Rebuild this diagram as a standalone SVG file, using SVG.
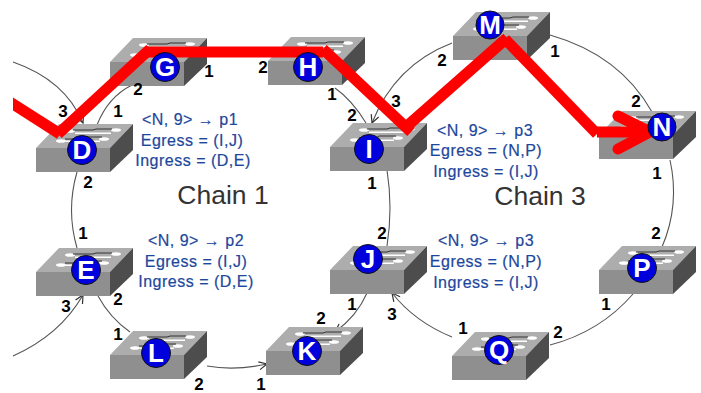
<svg xmlns="http://www.w3.org/2000/svg" xmlns:xlink="http://www.w3.org/1999/xlink" width="701" height="393" viewBox="0 0 701 393">
<style>
text{font-family:"Liberation Sans",Arial,sans-serif}
.c{fill:none;stroke:#555;stroke-width:1.1}
.a{marker-end:url(#ah)}
.r{stroke:#f00;stroke-width:11;fill:none}
.n{fill:#00d;stroke:#111;stroke-width:1}
.l{fill:#fff;font-weight:bold;font-size:26px;text-anchor:middle}
.p{fill:#000;font-size:17px;font-weight:bold;text-anchor:middle}
.t{fill:#1c479c;font-size:16px;text-anchor:middle;letter-spacing:.5px;stroke:#1c479c;stroke-width:.2}
.h{fill:#333;font-size:26.5px;text-anchor:middle}
</style>
<defs>
<clipPath id="cl"><rect x="13" y="0" width="688" height="393"/></clipPath>
<marker id="ah" viewBox="0 0 10 10" refX="9" refY="5" markerWidth="10" markerHeight="10" orient="auto" markerUnits="userSpaceOnUse"><path d="M1 1L9 5L1 9" fill="none" stroke="#333" stroke-width="1.2"/></marker>
<g id="sw">
<polygon points="0,0 23,-24 97,-24 74,0" fill="#adadad"/>
<rect x="0" y="0" width="74" height="24" fill="#8f8f8f"/>
<polygon points="74,0 97,-24 97,2 74,24" fill="#4d4d4d"/>
<g fill="#fff"><ellipse cx="34" cy="-17" rx="5" ry="1.8"/><ellipse cx="80" cy="-18" rx="5" ry="1.8"/><ellipse cx="25" cy="-7" rx="5" ry="1.8"/><ellipse cx="68" cy="-9" rx="5" ry="1.8"/><rect x="39" y="-15.5" width="36" height="1.5"/><rect x="30" y="-7.5" width="34" height="1.5"/></g>
<path d="M37 -18H57L60 -19H76M29 -9H46L49 -11H66" fill="none" stroke="#333" stroke-width="1"/>
</g>
</defs>
<rect width="701" height="393" fill="#fff"/>
<g id="connectors">
<path class="c a" d="M13 62Q65 80 83 123"/>
<path class="c" d="M132 85Q108 97 97 125"/>
<path class="c" d="M77 172Q66 210 77 248"/>
<path class="c a" d="M13 356Q60 335 83 295"/>
<path class="c" d="M98 296Q110 318 130 332"/>
<path class="c a" d="M207 366Q235 371 267 364"/>
<path class="c a" d="M367 293Q357 316 335 332"/>
<path class="c a" d="M452 337Q415 322 392 293"/>
<path class="c" d="M550 345Q600 332 633 294"/>
<path class="c" d="M662 247Q680 205 670 160"/>
<path class="c" d="M550 35Q620 55 652 112"/>
<path class="c a" d="M452 43Q395 65 372 123"/>
<path class="c" d="M335 88Q352 100 366 123"/>
<path class="c" d="M387 170Q393 208 387 246"/>
</g>
<g id="sw-M"><use xlink:href="#sw" href="#sw" x="453" y="36"/></g>
<g id="sw-N"><use xlink:href="#sw" href="#sw" x="599" y="135"/></g>
<g id="sw-D"><use xlink:href="#sw" href="#sw" x="36" y="148"/></g>
<g id="sw-G"><use xlink:href="#sw" href="#sw" x="110" y="62"/></g>
<g id="sw-H"><use xlink:href="#sw" href="#sw" x="268" y="61"/></g>
<g id="sw-I"><use xlink:href="#sw" href="#sw" x="330" y="147"/></g>
<g id="node-E"><use xlink:href="#sw" href="#sw" x="36" y="272"/><circle class="n" cx="86" cy="270" r="14.5"/><text class="l" x="86" y="279">E</text></g>
<g id="node-L"><use xlink:href="#sw" href="#sw" x="110" y="355"/><circle class="n" cx="156" cy="353" r="14.5"/><text class="l" x="156" y="362">L</text></g>
<g id="node-K"><use xlink:href="#sw" href="#sw" x="266" y="351"/><circle class="n" cx="307" cy="351" r="14.5"/><text class="l" x="307" y="360">K</text></g>
<g id="node-J"><use xlink:href="#sw" href="#sw" x="330" y="270"/><circle class="n" cx="368" cy="259" r="14.5"/><text class="l" x="368" y="268">J</text></g>
<g id="node-P"><use xlink:href="#sw" href="#sw" x="599" y="270"/><circle class="n" cx="642" cy="268" r="14.5"/><text class="l" x="642" y="277">P</text></g>
<g id="node-Q"><use xlink:href="#sw" href="#sw" x="452" y="356"/><circle class="n" cx="499" cy="350" r="14.5"/><text class="l" x="499" y="359">Q</text></g>
<g id="path-highlight" clip-path="url(#cl)">
<line class="r" x1="5" y1="99" x2="60" y2="134"/>
<line class="r" x1="58" y1="134" x2="150" y2="49"/>
<line class="r" x1="147" y1="52" x2="323" y2="52"/>
<line class="r" x1="323" y1="49" x2="411" y2="132"/>
<line class="r" x1="406" y1="127" x2="507" y2="38"/>
<line class="r" x1="505" y1="39" x2="597" y2="134"/>
<line class="r" x1="597" y1="132" x2="650" y2="132"/>
<path class="r" stroke-linecap="round" stroke-width="12" d="M618 116L650 132L618 149"/>
</g>
<g id="node-D"><circle class="n" cx="82" cy="150" r="14.5"/><text class="l" x="82" y="159">D</text></g>
<g id="node-G"><circle class="n" cx="165" cy="67" r="14.5"/><text class="l" x="165" y="76">G</text></g>
<g id="node-H"><circle class="n" cx="308" cy="67" r="14.5"/><text class="l" x="308" y="76">H</text></g>
<g id="node-I"><circle class="n" cx="369" cy="149" r="14.5"/><text class="l" x="369" y="158">I</text></g>
<g id="node-M"><circle class="n" cx="490" cy="25" r="14"/><text class="l" x="490" y="34">M</text></g>
<g id="node-N"><circle class="n" cx="662" cy="127" r="14"/><text class="l" x="662" y="136">N</text></g>
<g id="port-labels">
<text class="p" x="209" y="77">1</text><text class="p" x="138" y="95">2</text><text class="p" x="118" y="117">1</text><text class="p" x="63" y="117">3</text><text class="p" x="88" y="188">2</text>
<text class="p" x="263" y="73">2</text><text class="p" x="332" y="100">1</text><text class="p" x="352" y="121">2</text><text class="p" x="396" y="107">3</text><text class="p" x="442" y="66">2</text><text class="p" x="372" y="189">1</text>
<text class="p" x="555" y="57">1</text><text class="p" x="636" y="107">2</text><text class="p" x="657" y="179">1</text>
<text class="p" x="83" y="239">1</text><text class="p" x="66" y="312">3</text><text class="p" x="118" y="305">2</text><text class="p" x="118" y="340">1</text><text class="p" x="199" y="390">2</text><text class="p" x="261" y="390">1</text>
<text class="p" x="382" y="239">2</text><text class="p" x="352" y="310">1</text><text class="p" x="321" y="324">2</text><text class="p" x="392" y="320">3</text><text class="p" x="463" y="334">1</text><text class="p" x="558" y="338">2</text><text class="p" x="606" y="310">1</text><text class="p" x="656" y="239">2</text>
</g>
<g id="tables">
<text class="t" x="190" y="125">&lt;N, 9&gt; → p1</text><text class="t" x="192" y="146">Egress = (I,J)</text><text class="t" x="193" y="166">Ingress = (D,E)</text>
<text class="t" x="196" y="246">&lt;N, 9&gt; → p2</text><text class="t" x="196" y="267">Egress = (I,J)</text><text class="t" x="196" y="287">Ingress = (D,E)</text>
<text class="t" x="485" y="136">&lt;N, 9&gt; → p3</text><text class="t" x="486" y="156">Egress = (N,P)</text><text class="t" x="486" y="177">Ingress = (I,J)</text>
<text class="t" x="486" y="246">&lt;N, 9&gt; → p3</text><text class="t" x="486" y="267">Egress = (N,P)</text><text class="t" x="486" y="288">Ingress = (I,J)</text>
<text class="h" x="223" y="204">Chain 1</text><text class="h" x="540" y="205">Chain 3</text>
</g>
</svg>
